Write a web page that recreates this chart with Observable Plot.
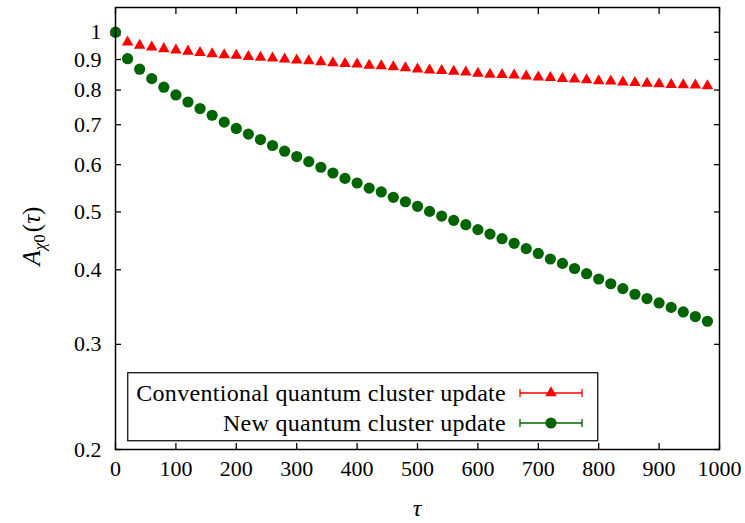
<!DOCTYPE html>
<html>
<head>
<meta charset="utf-8">
<script src="https://cdn.jsdelivr.net/npm/d3@7"></script>
<script src="https://cdn.jsdelivr.net/npm/@observablehq/plot@0.6"></script>
<style>
  html, body { margin: 0; padding: 0; background: #fff; }
  #wrap { position: relative; width: 745px; height: 523px; }
  #legend { position: absolute; left: 127px; top: 372px; }
</style>
</head>
<body>
<div id="wrap"></div>
<script>
const taus = [0,20,40,60,80,100,120,140,160,180,200,220,240,260,280,300,320,340,360,380,
  400,420,440,460,480,500,520,540,560,580,600,620,640,660,680,700,720,740,760,780,
  800,820,840,860,880,900,920,940,960,980];

const conventional = [1.000,0.962,0.950,0.944,0.938,0.933,0.929,0.924,0.920,0.916,
  0.914,0.910,0.907,0.905,0.901,0.898,0.895,0.892,0.888,0.886,
  0.884,0.880,0.878,0.875,0.871,0.867,0.864,0.862,0.860,0.857,
  0.853,0.850,0.849,0.847,0.844,0.841,0.839,0.836,0.834,0.832,
  0.829,0.828,0.825,0.823,0.821,0.819,0.817,0.816,0.815,0.813];

const newUpdate = [1.000,0.903,0.867,0.836,0.809,0.785,0.764,0.745,0.726,0.707,
  0.690,0.675,0.661,0.646,0.632,0.619,0.607,0.594,0.581,0.569,
  0.559,0.548,0.540,0.529,0.520,0.511,0.501,0.492,0.484,0.476,
  0.467,0.459,0.451,0.443,0.434,0.426,0.417,0.410,0.402,0.394,
  0.386,0.379,0.372,0.364,0.358,0.352,0.346,0.340,0.334,0.328];

const xTicks = [0,100,200,300,400,500,600,700,800,900,1000];
const yTicks = [0.2,0.3,0.4,0.5,0.6,0.7,0.8,0.9,1];
const seriesNames = ["Conventional quantum cluster update", "New quantum cluster update"];
const seriesColors = ["#ff0000", "#006400"];

const rowsConv = taus.map((t, i) => ({tau: t, a: conventional[i]}));
const rowsNew = taus.map((t, i) => ({tau: t, a: newUpdate[i]}));

const FONT = "'Liberation Serif', 'DejaVu Serif', serif";

const chart = Plot.plot({
  width: 745,
  height: 523,
  marginLeft: 115,
  marginRight: 26,
  marginTop: 7,
  marginBottom: 74,
  style: {fontFamily: FONT, fontSize: "22px", background: "#fff", color: "#000"},
  x: {domain: [0, 1000]},
  y: {type: "log", domain: [0.2, 1.1]},
  marks: [
    Plot.axisX({anchor: "bottom", ticks: xTicks, tickSize: 0, tickPadding: 11, tickFormat: d => String(d), label: null, fontSize: 22}),
    Plot.axisX({anchor: "bottom", ticks: xTicks, tickSize: -6, text: null, label: null, strokeWidth: 1.3}),
    Plot.axisX({anchor: "top", ticks: xTicks, tickSize: -6, text: null, label: null, strokeWidth: 1.3}),
    Plot.axisY({anchor: "left", ticks: yTicks, tickSize: 0, tickPadding: 14, tickFormat: d => String(d), label: null, fontSize: 22}),
    Plot.axisY({anchor: "left", ticks: yTicks, tickSize: -6, text: null, label: null, strokeWidth: 1.3}),
    Plot.axisY({anchor: "right", ticks: yTicks, tickSize: -6, text: null, label: null, strokeWidth: 1.3}),
    Plot.dot(rowsConv, {x: "tau", y: "a", symbol: "triangle", r: 4.3, fill: seriesColors[0], stroke: "none"}),
    Plot.dot(rowsNew, {x: "tau", y: "a", symbol: "circle", r: 5.6, fill: seriesColors[1], stroke: "none"}),
    Plot.frame({stroke: "#000", strokeWidth: 1.5})
  ]
});

const wrap = document.getElementById("wrap");
wrap.appendChild(chart);

const svg = d3.select(chart);
// x label
svg.append("text")
  .attr("x", 417).attr("y", 516)
  .attr("text-anchor", "middle")
  .attr("font-family", FONT).attr("font-size", 24).attr("font-style", "italic")
  .text("τ");
// y label
const yl = svg.append("text")
  .attr("transform", "translate(40,236) rotate(-90)")
  .attr("text-anchor", "middle")
  .attr("font-family", FONT).attr("font-size", 25);
yl.append("tspan").attr("font-style", "italic").text("A");
yl.append("tspan").attr("font-style", "italic").attr("font-size", 17).attr("dy", 5).text("χ");
yl.append("tspan").attr("font-size", 17).text("0");
yl.append("tspan").attr("dy", -5).attr("dx", 2).text("(");
yl.append("tspan").attr("font-style", "italic").text("τ");
yl.append("tspan").text(")");

// legend
const lw = 470, lh = 68;
const leg = d3.select(wrap).append("svg")
  .attr("id", "legend")
  .attr("width", lw + 2).attr("height", lh + 2);
leg.append("rect").attr("x", 0.75).attr("y", 0.75).attr("width", lw).attr("height", lh)
  .attr("fill", "#fff").attr("stroke", "#000").attr("stroke-width", 1.2);
const symTri = d3.symbol(d3.symbolTriangle, Math.PI * 4.3 * 4.3)();
seriesNames.forEach((name, i) => {
  const cy = 21 + i * 30;
  leg.append("text")
    .attr("x", 379).attr("y", cy).attr("dy", "0.33em")
    .attr("text-anchor", "end")
    .attr("font-family", FONT).attr("font-size", 24)
    .attr("letter-spacing", "0.3px")
    .text(name);
  const x1 = 393, x2 = 455, xm = 424;
  const c = seriesColors[i];
  leg.append("line").attr("x1", x1).attr("x2", x2).attr("y1", cy).attr("y2", cy).attr("stroke", c).attr("stroke-width", 1.3);
  leg.append("line").attr("x1", x1).attr("x2", x1).attr("y1", cy - 4).attr("y2", cy + 4).attr("stroke", c).attr("stroke-width", 1.3);
  leg.append("line").attr("x1", x2).attr("x2", x2).attr("y1", cy - 4).attr("y2", cy + 4).attr("stroke", c).attr("stroke-width", 1.3);
  if (i === 0) {
    leg.append("path").attr("d", symTri).attr("transform", `translate(${xm},${cy})`).attr("fill", c);
  } else {
    leg.append("circle").attr("cx", xm).attr("cy", cy).attr("r", 5.6).attr("fill", c);
  }
});
</script>
</body>
</html>
